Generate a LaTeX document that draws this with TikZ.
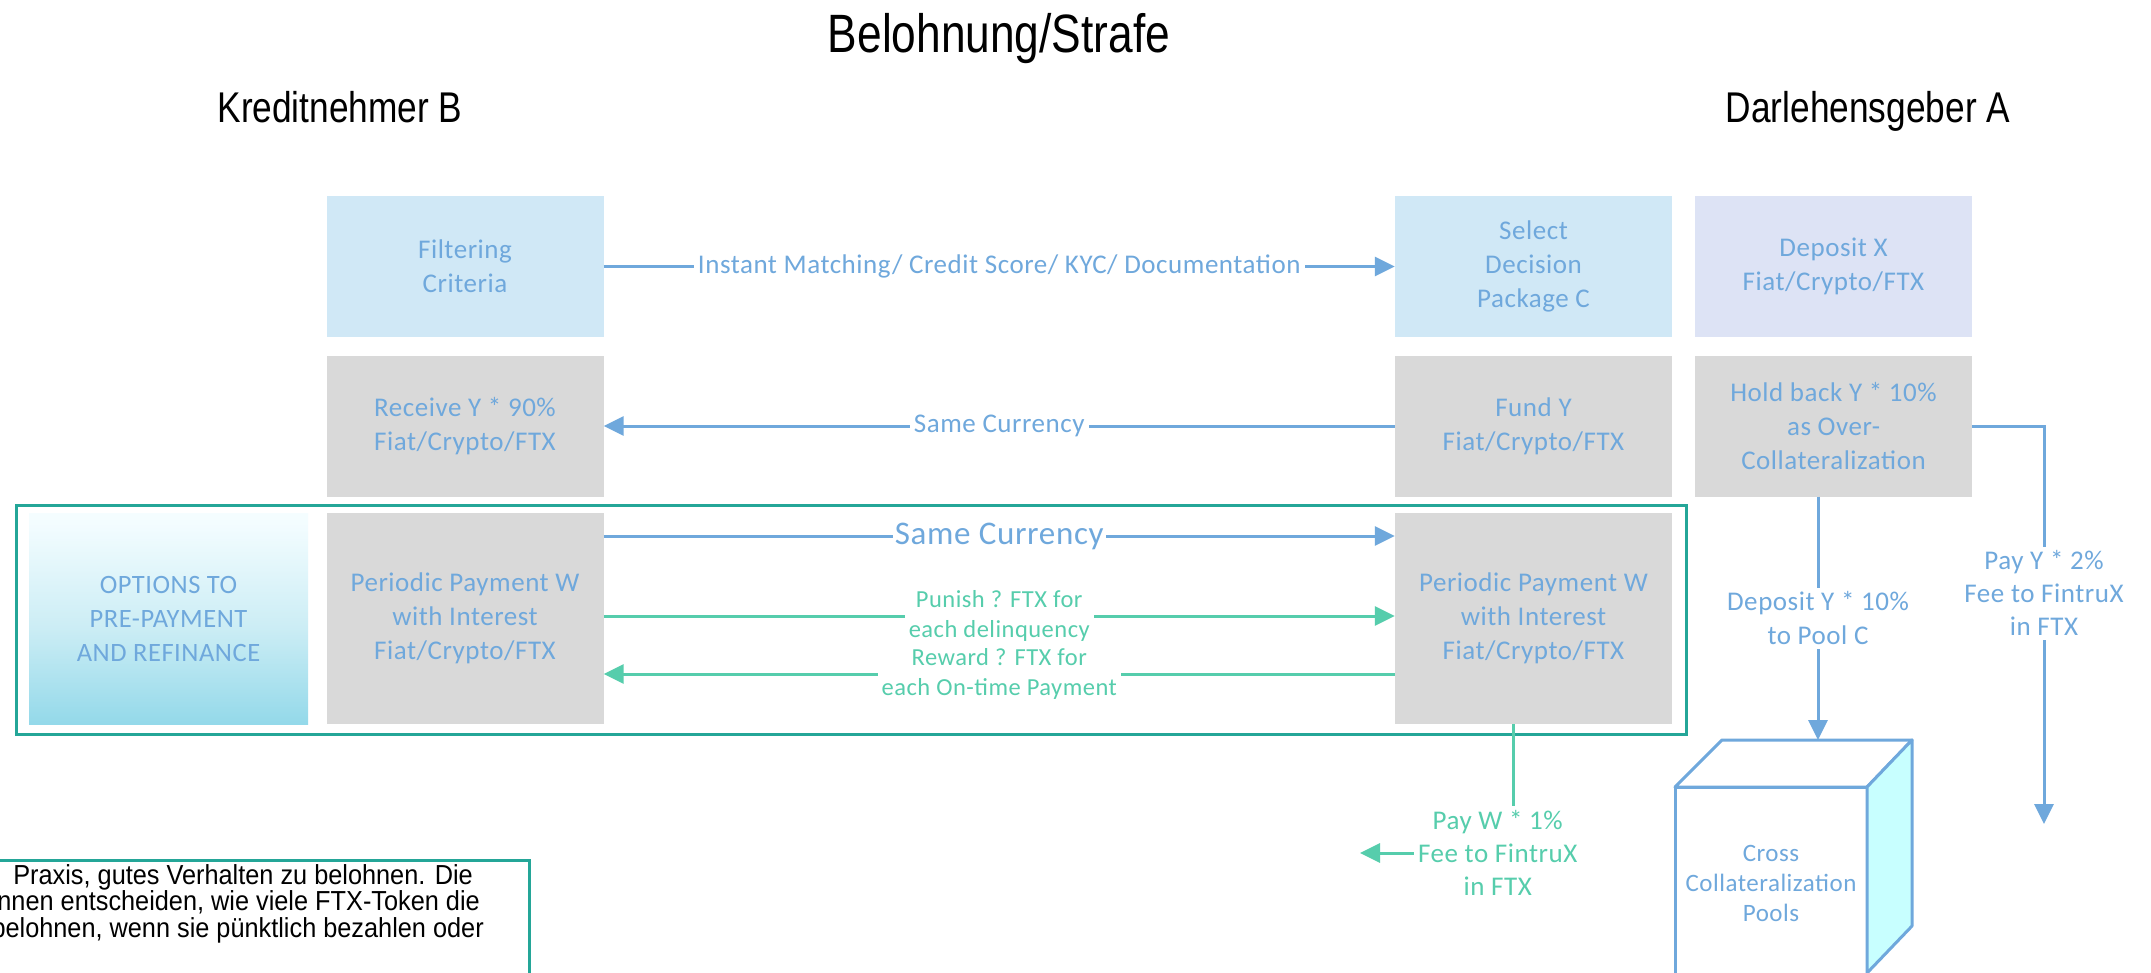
\documentclass[tikz,border=0pt]{standalone}
\usepackage{fontspec}
\setmainfont{Carlito}[LetterSpace=2]
\newfontfamily\narrowfont[FakeStretch=0.82]{Liberation Sans}
\newfontfamily\notefont[FakeStretch=0.92]{Liberation Sans}
\usetikzlibrary{arrows.meta}
\definecolor{txtblue}{RGB}{111,168,220}
\definecolor{fgreen}{RGB}{86,205,172}
\definecolor{frteal}{RGB}{36,166,152}
\definecolor{bxgreyc}{RGB}{217,217,217}
\definecolor{bxbluec}{RGB}{208,232,246}
\definecolor{bxlavc}{RGB}{221,227,245}
\definecolor{poolcyan}{RGB}{200,255,255}
\pgfdeclareverticalshading{optshade}{100bp}{rgb(0bp)=(0.37,0.77,0.87); rgb(22bp)=(0.55,0.84,0.91); rgb(48bp)=(0.80,0.93,0.96); rgb(72bp)=(0.95,0.99,1); rgb(88bp)=(1,1,1); rgb(100bp)=(1,1,1)}
\begin{document}
\begin{tikzpicture}[x=1pt, y=-1pt,
    bx/.style={minimum width=277pt, minimum height=141pt, inner sep=0pt, align=center,
      text=txtblue, font=\fontsize{27}{34}\selectfont},
    bxblue/.style={bx, fill=bxbluec},
    bxlav/.style={bx, fill=bxlavc},
    bxgrey/.style={bx, fill=bxgreyc},
    bxpay/.style={bxgrey, minimum height=211pt},
    lnblue/.style={draw=txtblue, line width=3pt, -{Triangle[length=20pt, width=19pt]}},
    lngreen/.style={draw=fgreen, line width=3pt, -{Triangle[length=20pt, width=19pt]}},
    lbl/.style={fill=white, inner sep=4pt, align=center, text=txtblue, font=\fontsize{27}{32}\selectfont},
    glbl/.style={lbl, text=fgreen, font=\fontsize{24.5}{30}\selectfont},
    head/.style={anchor=base, font=\narrowfont\fontsize{43}{50}\selectfont},
    note/.style={inner sep=0pt, anchor=base east, font=\notefont\fontsize{27.5}{30}\selectfont},
    pool/.style={draw=txtblue, line width=3pt, fill=white, line join=round}
  ]
  \useasboundingbox (0,0) rectangle (2151,972);
  \fill[white] (0,0) rectangle (2151,972);

  % headings
  \node[head, font=\narrowfont\fontsize{54}{60}\selectfont] at (999,52) (title) {Belohnung/Strafe};
  \node[head] at (340,122) (borrower) {Kreditnehmer B};
  \node[head] at (1868,122) (lender) {Darlehensgeber A};

  % borrower side
  \node[bxblue] at (465,266.5) (filter) {Filtering\\Criteria};
  \node[bxgrey] at (465,426) (receive) {Receive Y * 90\%\\Fiat/Crypto/FTX};
  \node[bxpay] at (465,618.5) (payB) {Periodic Payment W\\with Interest\\Fiat/Crypto/FTX};
  \node[bx, minimum width=279pt, minimum height=211pt, shade, shading=optshade,
    font=\fontsize{26.5}{34}\selectfont] at (168.5,618.5) (options) {OPTIONS TO\\PRE-PAYMENT\\AND REFINANCE};

  % lender side
  \node[bxblue] at (1533.5,266.5) (select) {Select\\Decision\\Package C};
  \node[bxlav] at (1833.5,266.5) (deposit) {Deposit X\\Fiat/Crypto/FTX};
  \node[bxgrey] at (1533.5,426) (fund) {Fund Y\\Fiat/Crypto/FTX};
  \node[bxgrey] at (1833.5,426) (hold) {Hold back Y * 10\%\\as Over-\\Collateralization};
  \node[bxpay] at (1533.5,618.5) (payA) {Periodic Payment W\\with Interest\\Fiat/Crypto/FTX};

  % payment frame
  \draw[frteal, line width=3pt] (16,505) rectangle (1686,734);

  % pool
  \draw[pool] (1675,787) rectangle (1867,990);
  \draw[pool] (1675,787) -- (1722,740) -- (1912,740) -- (1867,787) -- cycle;
  \draw[pool, fill=poolcyan] (1867,787) -- (1912,740) -- (1912,926) -- (1867,973) -- cycle;
  \node[align=center, text=txtblue, font=\fontsize{25}{30}\selectfont] at (1771,883) (cpool) {Cross\\Collateralization\\Pools};
  \coordinate (pooltop) at (1818,740);
  \coordinate (feeY) at (2044,824);
  \coordinate (feeW) at (1360,853);

  % edges
  \draw[lnblue] (filter) -- (select)
    node[lbl, midway] {Instant Matching/ Credit Score/ KYC/ Documentation};
  \draw[lnblue] (fund) -- (receive)
    node[lbl, midway] {Same Currency};
  \draw[lnblue] ([yshift=82.5pt]payB.east) -- ([yshift=82.5pt]payA.west)
    node[lbl, midway, inner sep=2pt, font=\fontsize{33}{40}\selectfont] {Same Currency};
  \draw[lngreen] ([yshift=2.5pt]payB.east) -- ([yshift=2.5pt]payA.west)
    node[glbl, midway] {Punish ? FTX for\\each delinquency};
  \draw[lngreen] ([yshift=-55.5pt]payA.west) -- ([yshift=-55.5pt]payB.east)
    node[glbl, midway] {Reward ? FTX for\\each On-time Payment};
  \draw[lnblue] (hold.south -| pooltop) -- (pooltop)
    node[lbl, midway, font=\fontsize{27}{34}\selectfont] {Deposit Y * 10\%\\to Pool C};
  \draw[lnblue] (hold.east) -| (feeY)
    node[lbl, pos=0.71, font=\fontsize{27}{33}\selectfont] {Pay Y * 2\%\\Fee to FintruX\\in FTX};
  \draw[lngreen] ([xshift=-20.5pt]payA.south) |- (feeW)
    node[glbl, pos=0.55, font=\fontsize{27}{33}\selectfont] {Pay W * 1\%\\Fee to FintruX\\in FTX};

  % note
  \draw[frteal, line width=3pt] (-5,860) -- (529,860) -- (529,990);
  \node[note] at (473,884) (note1) {Praxis, gutes Verhalten zu belohnen. Die};
  \node[note] at (480,910.5) (note2) {nnen entscheiden, wie viele FTX-Token die};
  \node[note] at (484,937) (note3) {belohnen, wenn sie pünktlich bezahlen oder};
\end{tikzpicture}
\end{document}
